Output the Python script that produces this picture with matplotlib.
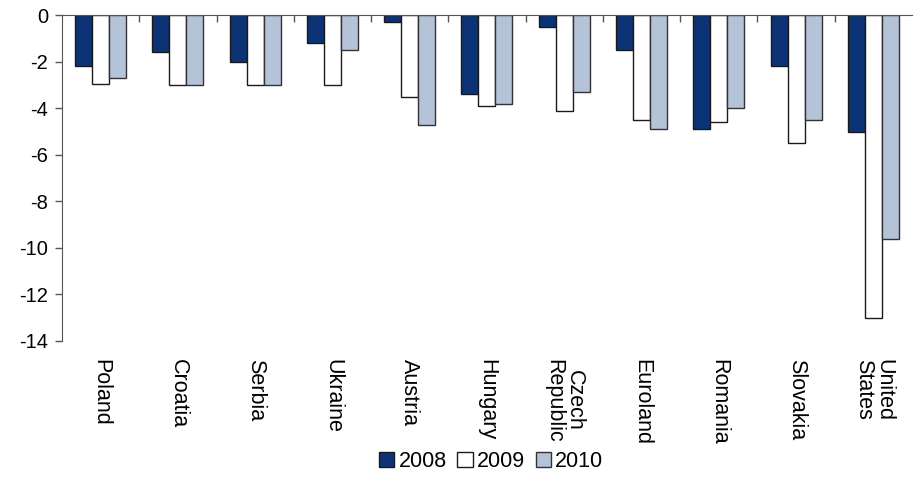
import numpy as np
import matplotlib
matplotlib.use("Agg")
import matplotlib.pyplot as plt
from matplotlib.ticker import FixedLocator

plt.rcParams['font.family'] = ['Liberation Sans', 'DejaVu Sans']

countries = ['Poland', 'Croatia', 'Serbia', 'Ukraine', 'Austria', 'Hungary',
             'Czech\nRepublic', 'Euroland', 'Romania', 'Slovakia', 'United\nStates']
years = ['2008', '2009', '2010']
bal_2008 = [-2.2, -1.6, -2.0, -1.2, -0.3, -3.4, -0.5, -1.5, -4.9, -2.2, -5.0]
bal_2009 = [-2.95, -3.0, -3.0, -3.0, -3.5, -3.9, -4.1, -4.5, -4.6, -5.5, -13.0]
bal_2010 = [-2.7, -3.0, -3.0, -1.5, -4.7, -3.8, -3.3, -4.9, -4.0, -4.5, -9.6]

colors = ['#0B3375', '#FFFFFF', '#B4C3D8']
edges = ['#1a1a1a', '#1a1a1a', '#333333']

fig = plt.figure(figsize=(9.14, 4.78), dpi=100)
ax = fig.add_axes([0.0678, 0.287, 0.930, 0.681])

x = np.arange(len(countries))
w = 0.22
for i, (vals, c, ec) in enumerate(zip([bal_2008, bal_2009, bal_2010], colors, edges)):
    ax.bar(x + (i - 1) * w, vals, w, color=c, edgecolor=ec, linewidth=1.0,
           label=years[i])

ax.set_xlim(-0.5, len(countries) - 0.5)
ax.set_ylim(-14, 0)
ax.set_yticks(np.arange(-14, 1, 2))
ax.set_yticklabels([str(v) for v in range(-14, 1, 2)])

# category names under the plot, boundary ticks on the zero line
ax.set_xticks(x)
ax.set_xticklabels(countries, rotation=270, fontsize=15.5, ha='center', va='top',
                   multialignment='center', linespacing=0.95)
ax.tick_params(axis='x', which='major', length=0, pad=13, top=False, bottom=True)
ax.xaxis.set_minor_locator(FixedLocator(np.arange(0.5, len(countries) - 0.5, 1)))
ax.tick_params(axis='x', which='minor', top=True, bottom=False, direction='in',
               length=5, width=1, color='#555555')
ax.tick_params(axis='y', direction='out', length=5, width=1, color='#555555',
               labelsize=14.5, pad=5)

for side in ['right', 'bottom']:
    ax.spines[side].set_visible(False)
ax.spines['left'].set_color('#555555')
ax.spines['top'].set_color('#555555')

ax.legend(loc='lower center', bbox_to_anchor=(0.505, -0.43), ncol=3, frameon=False,
          fontsize=15.5, handlelength=0.7, handleheight=0.7, handletextpad=0.2,
          columnspacing=0.5, borderaxespad=0)

fig.savefig('out.png', dpi=100)
